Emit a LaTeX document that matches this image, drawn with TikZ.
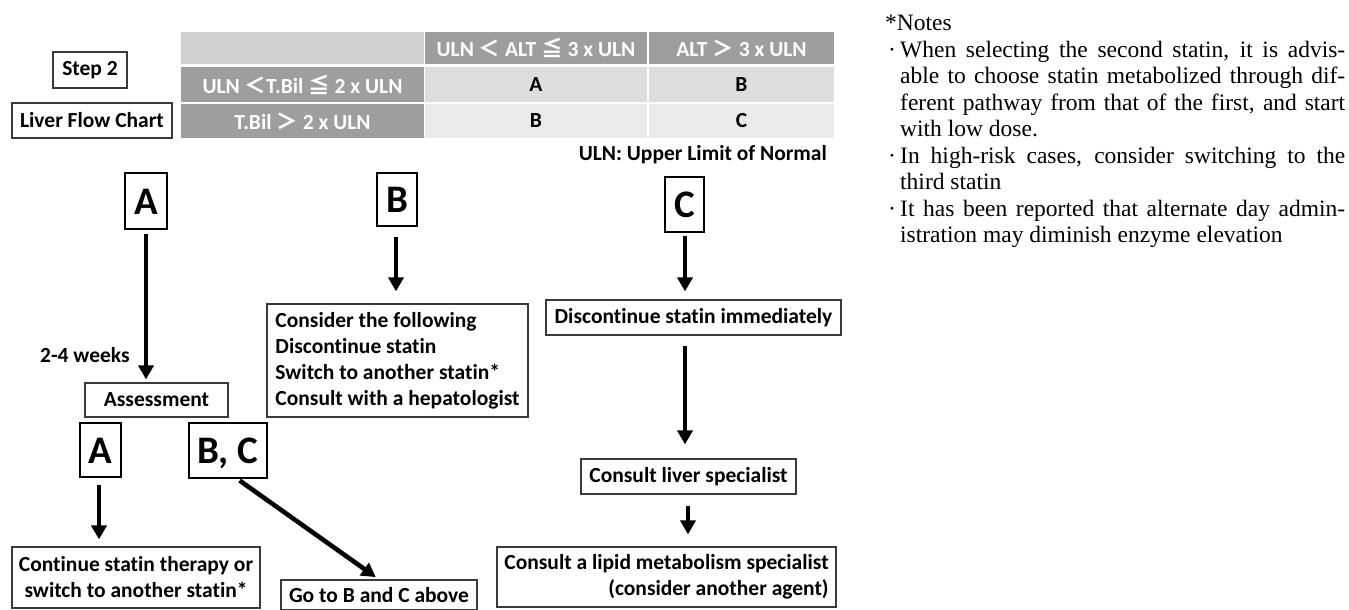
\documentclass[tikz,border=0pt]{standalone}
\usepackage{fontspec}
\setmainfont{Carlito}[Ligatures=NoCommon]
\newfontfamily\cjk{Noto Sans CJK JP}
\newfontfamily\notefont{Liberation Serif}
\usetikzlibrary{arrows.meta}
\definecolor{cellDark}{HTML}{9E9E9E}
\definecolor{cellHead}{HTML}{D0D0D0}
\definecolor{cellOne}{HTML}{DEDEDE}
\definecolor{cellTwo}{HTML}{EAEAEA}
\definecolor{boxLine}{HTML}{3A3A3A}
\tikzset{
  sansb/.style={font=\bfseries\fontsize{21.5}{26}\selectfont},
  thinbox/.style={sansb, draw=boxLine, line width=1.2pt, fill=white, inner sep=0pt},
  letterbox/.style={draw=black, line width=2.8pt, inner sep=0pt, text height=26pt, text depth=0pt, font=\bfseries\fontsize{39}{39}\selectfont},
  cell/.style={sansb, inner sep=0pt, draw=none},
  darkcell/.style={cell, fill=cellDark, text=white},
  arr/.style={line width=4.6pt, -{Triangle[width=15pt,length=14pt]}},
}
\newcommand{\lt}{{\cjk ＜}}
\newcommand{\gt}{{\cjk ＞}}
\newcommand{\leqq}{{\cjk ≦}}
\begin{document}
\begin{tikzpicture}[x=1pt,y=-1pt]
\useasboundingbox (0,0) rectangle (1349,610);
% left labels
\node[thinbox, minimum width=74pt, minimum height=36pt] (step) at (90,70) {Step 2};
\node[thinbox, minimum width=160pt, minimum height=35pt] (liver) at (92,120.5) {Liver Flow Chart};
% table
\node[cell, fill=cellHead, minimum width=243pt, minimum height=32pt] (h0) at (302.5,48) {};
\node[darkcell, minimum width=222pt, minimum height=32pt] (h1) at (536,48) {ULN \lt{} ALT \leqq{} 3 x ULN};
\node[darkcell, minimum width=185pt, minimum height=32pt] (h2) at (741.5,48) {ALT \gt{} 3 x ULN};
\node[darkcell, minimum width=243pt, minimum height=35pt] (r1l) at (302.5,84.5) {ULN \lt T.Bil \leqq{} 2 x ULN};
\node[cell, fill=cellOne, minimum width=222pt, minimum height=35pt] (r1a) at (536,84.5) {A};
\node[cell, fill=cellOne, minimum width=185pt, minimum height=35pt] (r1b) at (741.5,84.5) {B};
\node[darkcell, minimum width=243pt, minimum height=34pt] (r2l) at (302.5,121) {T.Bil \gt{} 2 x ULN};
\node[cell, fill=cellTwo, minimum width=222pt, minimum height=34pt] (r2a) at (536,121) {B};
\node[cell, fill=cellTwo, minimum width=185pt, minimum height=34pt] (r2b) at (741.5,121) {C};
\node[sansb, anchor=east, inner sep=0pt] (uln) at (827,155) {ULN: Upper Limit of Normal};
% big letters
\node[letterbox, minimum width=42pt, minimum height=56pt] (bigA) at (146,201) {A};
\node[letterbox, minimum width=40pt, minimum height=53pt] (bigB) at (397,199.5) {B};
\node[letterbox, minimum width=39pt, minimum height=55pt] (bigC) at (684.5,204.5) {C};
% column A
\node[sansb, anchor=west, inner sep=0pt] (weeks) at (40,355) {2-4 weeks};
\node[thinbox, minimum width=143pt, minimum height=34pt] (assess) at (156.5,400) {Assessment};
\node[letterbox, minimum width=41pt, minimum height=54pt] (smA) at (100.5,450) {A};
\node[letterbox, minimum width=78pt, minimum height=55pt] (smBC) at (228,450.5) {B, C};
\node[thinbox, minimum width=248pt, minimum height=61pt, align=center] (cont) at (136,577.5) {Continue statin therapy or\\switch to another statin*};
\node[thinbox, minimum width=196pt, minimum height=30pt] (goto) at (379,595) {Go to B and C above};
% column B
\node[thinbox, minimum width=261pt, minimum height=113pt, align=left] (consider) at (397.5,360.5) {Consider the following\\Discontinue statin\\Switch to another statin*\\Consult with a hepatologist};
% column C
\node[thinbox, minimum width=295pt, minimum height=35pt] (disc) at (693.5,317.5) {Discontinue statin immediately};
\node[thinbox, minimum width=215pt, minimum height=35pt] (liversp) at (688.5,476.5) {Consult liver specialist};
\node[thinbox, minimum width=339pt, minimum height=60pt, align=right] (lipid) at (666.5,577) {Consult a lipid metabolism specialist\\(consider another agent)};
% arrows
\draw[arr, shorten <=4pt, shorten >=3pt] (bigA.south) -- (bigA.south |- assess.north);
\draw[arr, shorten <=7pt, shorten >=7pt] (smA.south -| 99,0) -- (cont.north -| 99,0);
\draw[arr, shorten <=2pt, shorten >=4pt] ([xshift=10pt]smBC.south) -- (goto.north);
\draw[arr, shorten <=10pt, shorten >=12pt] (bigB.south -| 396,0) -- (consider.north -| 396,0);
\draw[arr, shorten <=3pt, shorten >=8pt] (bigC.south -| 685,0) -- (disc.north -| 685,0);
\draw[arr, shorten <=10pt, shorten >=14pt] (disc.south -| 685,0) -- (liversp.north -| 685,0);
\draw[arr, shorten <=11pt, shorten >=12pt] (liversp.south -| 688,0) -- (lipid.north -| 688,0);
% notes
\node[anchor=north west, inner sep=0pt, text width=460pt, align=justify,
      font=\notefont\fontsize{23.5}{26.5}\selectfont] (notes) at (885,15) {%
\hyphenpenalty=10000 \tolerance=10000 \emergencystretch=20pt
\noindent *Notes\par
\leftskip=15pt \parindent=-12pt
\makebox[12pt][l]{·}When selecting the second statin, it is advis-\linebreak able to choose statin metabolized through dif-\linebreak ferent pathway from that of the first, and start\linebreak with low dose.\par
\makebox[12pt][l]{·}In high-risk cases, consider switching to the\linebreak third statin\par
\makebox[12pt][l]{·}It has been reported that alternate day admin-\linebreak istration may diminish enzyme elevation\par};
\end{tikzpicture}
\end{document}
